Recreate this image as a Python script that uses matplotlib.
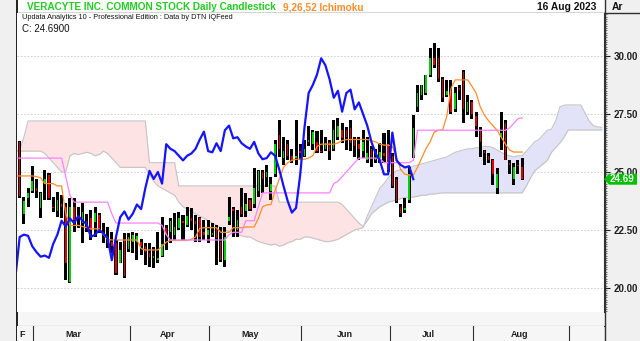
import matplotlib
matplotlib.use('Agg')
import matplotlib.pyplot as plt
import numpy as np
from matplotlib.patches import Rectangle, Polygon
from matplotlib.ticker import MultipleLocator

plt.rcParams['font.family'] = ['Liberation Sans', 'DejaVu Sans']

# ---------------- data (trading days 22 Feb 2023 .. 16 Aug 2023) ----------------
opens = [22.75, 26.3, 23.2, 23.9, 24.2, 24.3, 23.45, 24.5, 24.85, 23.5, 23.3, 23.6, 23.51, 20.27, 23.51, 23.1,
         22.79, 22.9, 23.0, 22.86, 23.15, 22.4, 22.0, 22.0, 21.93, 21.06,
         22.07, 21.7, 22.0, 22.0, 22.0, 21.8, 21.5, 21.3, 21.2, 21.4,
         22.6, 22.4, 22.3, 22.6, 22.9, 22.7, 23.0, 22.9, 23.0, 22.4,
         22.3, 22.3, 22.6, 22.0, 21.2, 22.9, 23.4, 22.5, 23.5, 23.3,
         23.8, 23.6, 24.2, 25.0, 24.8, 24.2, 24.9, 26.6, 25.6, 26.2,
         25.7, 25.6, 25.9, 25.7, 26.3, 26.2, 26.3, 25.9, 26.0, 26.3,
         26.0, 26.5, 26.8, 26.8, 26.9, 26.4, 26.2, 25.9, 25.5, 26.0,
         25.5, 25.5, 25.8, 26.2, 25.7, 24.7, 23.5, 23.35, 23.8, 25.65,
         27.8, 28.3, 28.4, 29.2, 29.9, 29.9, 29.0, 28.3, 28.5, 27.7,
         28.6, 29.3, 27.6, 28.0, 27.4, 26.75, 25.9, 25.7, 25.5, 24.3,
         26.5, 27.1, 25.4, 24.7, 25.3, 25.2]
highs = [23.94, 26.35, 23.94, 24.3, 25.26, 24.7, 24.15, 25.09, 24.94, 23.94, 24.15, 24.0, 23.65, 23.86, 23.86, 23.51,
         23.65, 23.2, 23.36, 23.51, 23.22, 22.79, 22.64, 22.43, 22.07, 22.0,
         22.36, 22.36, 22.4, 22.36, 22.1, 21.93, 21.93, 21.78, 22.43, 23.07,
         22.72, 23.0, 23.22, 23.29, 23.15, 23.51, 23.43, 23.15, 23.07, 22.93,
         22.93, 22.79, 22.72, 22.64, 22.64, 23.94, 23.5, 23.36, 24.3, 24.08,
         23.87, 25.16, 25.1, 25.09, 25.3, 24.8, 26.38, 27.24, 26.52, 26.38,
         26.0, 27.24, 26.2, 26.38, 27.0, 26.81, 26.75, 26.81, 26.52, 26.38,
         27.24, 27.31, 27.1, 26.95, 27.24, 26.52, 26.52, 26.81, 26.52, 26.1,
         26.0, 26.24, 26.67, 26.81, 25.8, 24.8, 23.6, 23.86, 25.23, 27.46,
         28.75, 28.75, 28.9, 30.33, 30.55, 30.33, 29.1, 28.97, 28.97, 28.68,
         28.75, 29.4, 28.3, 28.1, 27.6, 26.95, 25.95, 25.8, 25.55, 25.16,
         27.6, 27.24, 25.5, 25.37, 25.5, 25.6]
lows = [22.67, 23.9, 22.75, 23.5, 24.1, 23.9, 23.0, 23.8, 23.79, 23.29, 23.07, 23.0, 20.34, 20.23, 22.43, 22.6,
        21.93, 22.43, 22.07, 22.21, 22.36, 21.93, 21.71, 21.49, 20.56, 21.06,
        20.45, 21.57, 21.49, 21.2, 21.42, 21.0, 20.92, 20.85, 21.06, 21.35,
        21.64, 21.93, 22.07, 22.5, 22.07, 22.64, 22.5, 22.0, 22.0, 22.07,
        21.93, 22.21, 20.99, 21.1, 20.9, 22.72, 22.21, 22.21, 23.07, 23.07,
        23.3, 23.43, 23.94, 24.08, 24.37, 23.79, 24.8, 25.66, 25.3, 25.5,
        25.4, 25.3, 25.5, 25.66, 26.1, 25.95, 25.8, 25.8, 25.9, 25.5,
        25.9, 26.38, 26.24, 25.95, 25.9, 25.66, 25.52, 25.6, 25.37, 25.23,
        25.37, 25.37, 25.4, 25.0, 24.3, 23.65, 23.07, 23.25, 23.65, 25.59,
        27.6, 28.1, 28.3, 29.1, 29.5, 28.9, 28.03, 28.25, 27.5, 27.6,
        28.1, 27.1, 27.46, 27.3, 26.5, 25.66, 25.3, 25.4, 24.44, 24.05,
        25.95, 25.5, 24.9, 24.44, 24.9, 24.66]
closes = [23.85, 23.95, 23.75, 24.1, 24.6, 24.2, 24.1, 24.7, 23.86, 23.43, 23.79, 23.5, 21.06, 23.51, 22.93, 23.0,
          23.29, 22.8, 22.5, 23.22, 22.5, 22.3, 21.95, 21.8, 20.63, 21.64,
          20.5, 22.2, 22.3, 22.25, 21.8, 21.55, 21.35, 21.4, 21.3, 21.9,
          22.3, 22.9, 22.65, 23.0, 22.8, 23.1, 22.9, 22.75, 22.2, 22.3,
          22.5, 22.35, 22.15, 21.2, 22.2, 23.05, 23.3, 22.95, 23.2, 23.6,
          23.4, 24.3, 25.05, 24.7, 25.0, 24.5, 26.2, 26.0, 25.9, 25.7,
          25.5, 25.7, 25.8, 26.0, 26.4, 26.74, 25.9, 25.85, 26.24, 25.9,
          26.8, 27.0, 26.45, 26.5, 26.24, 26.1, 26.0, 26.3, 25.8, 25.55,
          25.6, 25.85, 25.7, 25.1, 24.4, 23.75, 23.25, 23.45, 24.9, 26.9,
          28.4, 28.75, 29.2, 29.9, 29.6, 29.0, 28.2, 28.5, 27.6, 28.4,
          28.55, 27.7, 28.0, 27.5, 27.0, 26.3, 25.8, 25.5, 24.9, 24.9,
          26.7, 25.5, 25.3, 25.2, 25.25, 24.69]

tenkan = [24.83, 24.83, 24.83, 24.83, 24.83, 24.8, 24.75, 24.5, 24.5, 24.5, 24.4, 24.4, 23.2, 22.7, 22.7, 22.7,
          22.65, 22.6, 22.55, 22.55, 22.55, 22.3, 22.1, 22.07, 22.07, 22.07, 22.07, 22.07, 22.07, 22.07,
          21.7, 21.64, 21.64, 21.64, 21.64, 21.8, 21.98, 22.05, 22.05, 22.05, 22.05, 22.05, 22.1, 22.2,
          22.57, 22.6, 22.6, 22.6, 22.6, 22.4, 22.4, 22.4, 22.6, 22.6, 22.6, 22.63, 22.63, 22.63, 23.0,
          23.5, 23.58, 23.6, 24.2, 24.7, 25.2, 25.4, 25.5, 25.55, 25.55, 25.55, 25.6, 25.7, 26.1, 26.2,
          26.2, 26.2, 26.2, 26.25, 26.35, 26.4, 26.4, 26.4, 26.4, 26.4, 26.4, 26.35, 26.3, 26.2, 26.16,
          26.16, 26.1, 25.6, 25.1, 24.9, 24.87, 24.87, 25.2, 25.6, 26.0, 26.3, 26.72, 26.8, 26.81, 27.4,
          28.6, 28.97, 28.97, 28.97, 28.97, 28.7, 28.4, 27.8, 27.45, 27.2, 27.0, 26.8, 26.5, 26.2, 25.95,
          25.86, 25.86, 25.86]
kijun = [25.6] * 12 + [24.8, 24.0] + [23.7] * 9 + [23.2] + [22.8] * 11 + [22.7, 22.3] + [22.07] * 14 \
        + [22.3] + [22.4] * 3 + [22.9] * 3 + [23.5] + [24.1] * 17 + [24.5, 24.6, 24.8, 25.0, 25.2, 25.4] \
        + [25.6] * 6 + [25.4] * 7 + [25.5] + [26.8] * 22 + [26.9, 27.1, 27.3, 27.33]

span_a = [25.9, 25.9, 25.9, 25.9, 25.9, 25.9, 25.9, 25.8, 25.6, 25.4, 25.2, 25.0, 25.0,
          25.7, 25.8, 25.75, 25.8, 25.85, 25.8, 25.7, 25.75, 25.9,
          25.8, 25.6, 25.4, 25.2, 25.2, 25.2, 25.2, 25.2, 25.2, 25.2,
          24.9, 24.6, 24.4, 24.3, 24.2, 24.1, 24.0,
          23.7, 23.5, 23.4, 23.3, 23.2, 23.1, 23.0, 22.9, 22.8, 22.7, 22.6,
          22.5, 22.45, 22.4, 22.3, 22.25, 22.2, 22.2, 22.1, 22.0, 21.95,
          21.9, 21.85, 21.9, 21.8, 21.85, 21.95, 22.0, 22.1, 22.1, 22.2,
          22.2, 22.15, 22.1, 22.05, 22.0, 22.0, 22.05, 22.1, 22.2, 22.3,
          22.4, 22.5, 22.55, 22.6,
          23.1, 23.5, 23.9, 24.3, 24.5, 24.75, 24.95, 25.05, 25.1, 25.15,
          25.2, 25.25, 25.3, 25.35, 25.4, 25.45, 25.5, 25.55, 25.6, 25.65,
          25.75, 25.85, 25.9, 25.95, 26.0, 26.0, 26.05, 26.05, 26.1, 26.1,
          26.05, 25.95, 25.85, 25.75, 25.7, 25.65, 25.7, 25.7, 25.9, 26.1,
          26.3, 26.4, 26.6, 26.8, 26.85, 27.2, 27.8, 27.88, 27.89, 27.89,
          27.89, 27.89, 27.55, 27.2, 27.0, 26.95, 26.92]
span_b = [25.9, 25.95, 26.5] + [27.2] * 29 + [25.4] * 7 + [24.4] * 24 + [23.7] * 15 \
         + [23.6, 23.4, 23.2, 23.0, 22.8, 22.65] \
         + [22.9, 23.2, 23.35, 23.5, 23.6, 23.7, 23.75, 23.8, 23.85, 23.9, 23.9, 23.92, 23.95, 24.0,
            24.0, 24.05, 24.05, 24.08] + [24.1] * 20 \
         + [24.4, 24.75, 25.05, 25.2, 25.35, 25.5, 25.85, 26.05, 26.25, 26.5] + [26.81] * 9

ytick_vals = [20.0, 22.5, 25.0, 27.5, 30.0]
month_labels = ['Mar', 'Apr', 'May', 'Jun', 'Jul', 'Aug']
month_label_pos = [13.85, 36.2, 56.0, 78.7, 98.7, 120.4]
month_bounds = [4.18, 27.34, 46.2, 68.2, 89.4, 109.3, 132.2]
last_close = 24.69
chikou_shift = 26

# ---------------- figure ----------------
W, H = 640, 341
fig = plt.figure(figsize=(6.4, 3.41), dpi=100)

bg = fig.add_axes([0, 0, 1, 1], zorder=0)
bg.set_xlim(0, W); bg.set_ylim(H, 0); bg.axis('off')
bg.add_patch(Rectangle((0, 0), W, H, facecolor='#f0f0f0', edgecolor='none'))
bg.add_patch(Rectangle((17, 0), 588, 13, facecolor='white', edgecolor='none'))
bg.add_patch(Rectangle((17, 312), 588, 14, facecolor='#f6f6f6', edgecolor='none'))
bg.plot([16.5, 16.5], [0, H], color='#202020', lw=1.4)
bg.plot([16.5, W], [13, 13], color='#303030', lw=1.0)
bg.plot([605, 605], [0, H], color='#303030', lw=1.0)
bg.plot([16.5, 605], [326, 326], color='#303030', lw=0.8)
bg.plot([16.5, 605], [340.5, 340.5], color='#303030', lw=0.8)

L_, R_, T_, B_ = 17, 604, 13, 312
ax = fig.add_axes([L_ / W, 1 - B_ / H, (R_ - L_) / W, (B_ - T_) / H], zorder=2)
ax.set_facecolor('white')
ax.set_xlim(0.358, 140.54)
ax.set_ylim(18.966, 31.853)

for v in ytick_vals:
    ax.axhline(v, color='#c8c8c8', lw=0.6, ls=(0, (2, 2)), zorder=0.5)

A = np.array(span_a); Bb = np.array(span_b[:len(span_a)])
xc = np.arange(len(A))
ax.fill_between(xc, A, Bb, where=Bb >= A, interpolate=True, color='#fde3e3', lw=0, zorder=1)
ax.fill_between(xc, A, Bb, where=A > Bb, interpolate=True, color='#e2e2f8', lw=0, zorder=1)
ax.plot(xc, A, color='#c4c4c4', lw=0.8, zorder=1.2)
ax.plot(xc, Bb, color='#c4c4c4', lw=0.8, zorder=1.2)

o = np.array(opens); h = np.array(highs); l = np.array(lows); c = np.array(closes)
h = np.maximum(h, np.maximum(o, c)); l = np.minimum(l, np.minimum(o, c))
idx = np.arange(len(c))
ax.bar(idx, h - l, bottom=l, width=0.72, color='black', zorder=3)
up = c >= o
body = np.maximum(np.abs(c - o), 0.03)
ax.bar(idx[up], body[up], bottom=np.minimum(o, c)[up], width=0.36, color='#00d000', zorder=3.1)
ax.bar(idx[~up], body[~up], bottom=np.minimum(o, c)[~up], width=0.36, color='#e00000', zorder=3.1)

ax.plot(idx, tenkan, color='#ff8c28', lw=0.9, zorder=4)
ax.plot(idx, kijun, color='#ff80ff', lw=0.9, zorder=4)
ax.plot(idx[:-chikou_shift], c[chikou_shift:], color='#1414ff', lw=1.6, zorder=5)

for s in ['left', 'top', 'bottom']:
    ax.spines[s].set_visible(False)
ax.spines['right'].set_color('#303030'); ax.spines['right'].set_linewidth(0.8)
ax.set_xticks([])
ax.yaxis.tick_right()
ax.set_yticks(ytick_vals)
ax.set_yticklabels([f'{v:.2f}' for v in ytick_vals], fontsize=7, fontweight='bold', color='#202020')
ax.yaxis.set_minor_locator(MultipleLocator(0.1))
ax.tick_params(axis='y', which='major', length=4, width=0.8, pad=3, colors='#202020')
ax.tick_params(axis='y', which='minor', length=2, width=0.5, colors='#404040')

# month row
axm = fig.add_axes([L_ / W, 0.5 / H, (R_ - L_) / W, 14.5 / H], zorder=2)
axm.set_xlim(ax.get_xlim()); axm.set_ylim(0, 1)
axm.set_facecolor('#f6f6f6')
for s in axm.spines.values():
    s.set_visible(False)
axm.set_xticks([]); axm.set_yticks([])
for b in month_bounds:
    axm.axvline(b, color='#303030', lw=0.8)
for lab, p in zip(month_labels, month_label_pos):
    axm.text(p, 0.42, lab, ha='center', va='center', fontsize=6.5, fontweight='bold', color='#202020')
axm.text(0.84, 0.42, 'F', ha='left', va='center', fontsize=6.5, fontweight='bold', color='#202020')

# overlay texts
ov = fig.add_axes([0, 0, 1, 1], zorder=10)
ov.set_xlim(0, W); ov.set_ylim(H, 0); ov.axis('off'); ov.patch.set_alpha(0)
ov.text(27, 7, 'VERACYTE INC. COMMON STOCK Daily Candlestick', color='#22cc22', fontsize=7.2,
        fontweight='bold', ha='left', va='center')
ov.text(283, 7, '9,26,52 Ichimoku', color='#ff8c28', fontsize=7.2, fontweight='bold', ha='left', va='center')
ov.text(596, 7, '16 Aug 2023', color='#111111', fontsize=7.4, fontweight='bold', ha='right', va='center')
ov.text(612, 7, 'Ar', color='#111111', fontsize=7.4, fontweight='bold', ha='left', va='center')
ov.text(22, 17.5, 'Updata Analytics 10 - Professional Edition : Data by DTN IQFeed', color='#111111',
        fontsize=5.3, ha='left', va='center')
ov.text(22, 29.5, 'C: 24.6900', color='#111111', fontsize=7, ha='left', va='center')

yl = 288 - (last_close - 20) * 23.2
ov.add_patch(Polygon([(604, yl), (609, yl - 5.5), (637, yl - 5.5), (637, yl + 5.5), (609, yl + 5.5)],
                     closed=True, facecolor='#00c000', edgecolor='none'))
ov.text(622.5, yl + 0.3, f'{last_close:.2f}', color='white', fontsize=7, fontweight='bold',
        ha='center', va='center')

fig.savefig('out.png', dpi=100)
